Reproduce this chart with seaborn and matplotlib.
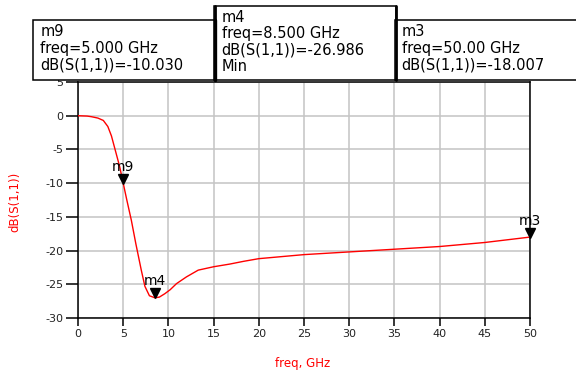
import matplotlib
matplotlib.use("Agg")
import matplotlib.pyplot as plt
import matplotlib.transforms as mtransforms
from matplotlib.patches import Rectangle
from matplotlib.lines import Line2D
import seaborn as sns
import pandas as pd

# ---- data ----
freq_ghz = [0, 1.0, 1.5, 2.2, 2.8, 3.3, 3.7, 4.1, 4.6, 5.0, 5.4, 5.9, 6.4, 7.0,
            7.4, 7.9, 8.5, 9.0, 9.6, 10.2, 10.9, 12.0, 13.3, 15.0, 16.8, 18.3,
            20.0, 22.5, 25.0, 30.0, 35.0, 40.0, 45.0, 50.0]
db_s11 = [0.0, -0.05, -0.15, -0.35, -0.7, -1.6, -3.0, -5.0, -7.5, -10.0, -12.5,
          -15.5, -19.0, -22.9, -25.3, -26.7, -27.0, -26.9, -26.4, -25.8, -24.9,
          -23.9, -22.9, -22.4, -22.0, -21.6, -21.2, -20.9, -20.6, -20.2, -19.8,
          -19.4, -18.8, -18.0]

marker_names = ["m9", "m4", "m3"]
marker_freq = [5.0, 8.5, 50.0]
marker_db = [-10.030, -26.986, -18.007]
marker_box_lines = [
    ["m9", "freq=5.000 GHz", "dB(S(1,1))=-10.030"],
    ["m4", "freq=8.500 GHz", "dB(S(1,1))=-26.986", "Min"],
    ["m3", "freq=50.00 GHz", "dB(S(1,1))=-18.007"],
]

x_ticks = [0, 5, 10, 15, 20, 25, 30, 35, 40, 45, 50]
y_ticks = [5, 0, -5, -10, -15, -20, -25, -30]

# ---- figure ----
sns.set_theme(style="white")
plt.rcParams["font.family"] = ["DejaVu Sans"]

W, H = 576, 371
fig = plt.figure(figsize=(W / 100, H / 100), dpi=100)
fig.patch.set_facecolor("white")

L, R, T, B = 78, 530, 82, 318
ax = fig.add_axes([L / W, 1 - B / H, (R - L) / W, (B - T) / H])
ax.set_facecolor("white")

df = pd.DataFrame({"freq": freq_ghz, "db": db_s11})
sns.lineplot(data=df, x="freq", y="db", color="#ff0000", linewidth=1.0,
             ax=ax, legend=False, zorder=3)

ax.set_xlim(0, 50)
ax.set_ylim(-30, 5)
ax.set_xticks(x_ticks)
ax.set_yticks(y_ticks)
ax.set_xticklabels([str(v) for v in x_ticks])
ax.set_yticklabels([str(v) for v in y_ticks])
ax.grid(True, color="#c4c4c4", linewidth=1.1)
ax.set_axisbelow(True)
for s in ax.spines.values():
    s.set_color("black")
    s.set_linewidth(1.1)
    s.set_visible(True)
ax.tick_params(axis="y", length=8.5, width=1.1, color="black", pad=2,
               labelsize=8, labelcolor="#222222", left=True)
ax.tick_params(axis="x", length=5.5, width=1.1, color="black", pad=2.5,
               labelsize=8, labelcolor="#222222", bottom=True)

ax.set_xlabel("freq, GHz", color="#ff0000", fontsize=8.5)
ax.set_ylabel("dB(S(1,1))", color="#ff0000", fontsize=8.5)
ax.xaxis.set_label_coords((302.7 - L) / (R - L), (B - 363) / (B - T))
ax.xaxis.label.set_va("center")
ax.yaxis.set_label_coords((15 - L) / (R - L), 0.49)
ax.yaxis.label.set_va("center")

# markers: down triangle with tip on the point, name above
for name, fx, fy in zip(marker_names, marker_freq, marker_db):
    tri_tr = mtransforms.offset_copy(ax.transData, fig=fig, x=0, y=3.3, units="points")
    ax.plot([fx], [fy], marker="v", color="black", markersize=6.5,
            transform=tri_tr, clip_on=False, zorder=5)
    txt_tr = mtransforms.offset_copy(ax.transData, fig=fig, x=0, y=9.0, units="points")
    ax.text(fx, fy, name, transform=txt_tr, ha="center", va="baseline",
            fontsize=10, color="black", clip_on=False, zorder=5)

# ---- marker readout boxes (pixel geometry from reference) ----
def fx_(px):
    return px / W

def fy_(py):
    return 1 - py / H

boxes = [
    (33, 20, 215, 80),
    (214, 6, 396, 80),
    (395, 20, 580, 80),
]
text_left = [40.5, 221.5, 401.5]
line_centers = [
    [31.7, 48.5, 65.5],
    [17.5, 33.8, 50.2, 66.5],
    [31.7, 48.5, 65.5],
]
for (x0, y0, x1, y1), lines, tx, cys in zip(boxes, marker_box_lines, text_left, line_centers):
    fig.patches.append(Rectangle((fx_(x0), fy_(y1)), (x1 - x0) / W, (y1 - y0) / H,
                                 transform=fig.transFigure, facecolor="white",
                                 edgecolor="black", linewidth=1.1, zorder=4))
    for ln, cy in zip(lines, cys):
        fig.text(fx_(tx), fy_(cy), ln, ha="left", va="center", fontsize=10.5,
                 color="black", zorder=6)

# thicker shared borders between boxes
for xb, y0 in [(214.5, 6), (395.5, 6)]:
    fig.lines.append(Line2D([fx_(xb), fx_(xb)], [fy_(80), fy_(y0 if xb < 300 else 6)],
                            transform=fig.transFigure, color="black",
                            linewidth=2.0, zorder=7))
fig.lines.append(Line2D([fx_(214.5), fx_(214.5)], [fy_(80), fy_(20)],
                        transform=fig.transFigure, color="black", linewidth=2.4, zorder=7))

fig.savefig("out.png", dpi=100, facecolor="white")
